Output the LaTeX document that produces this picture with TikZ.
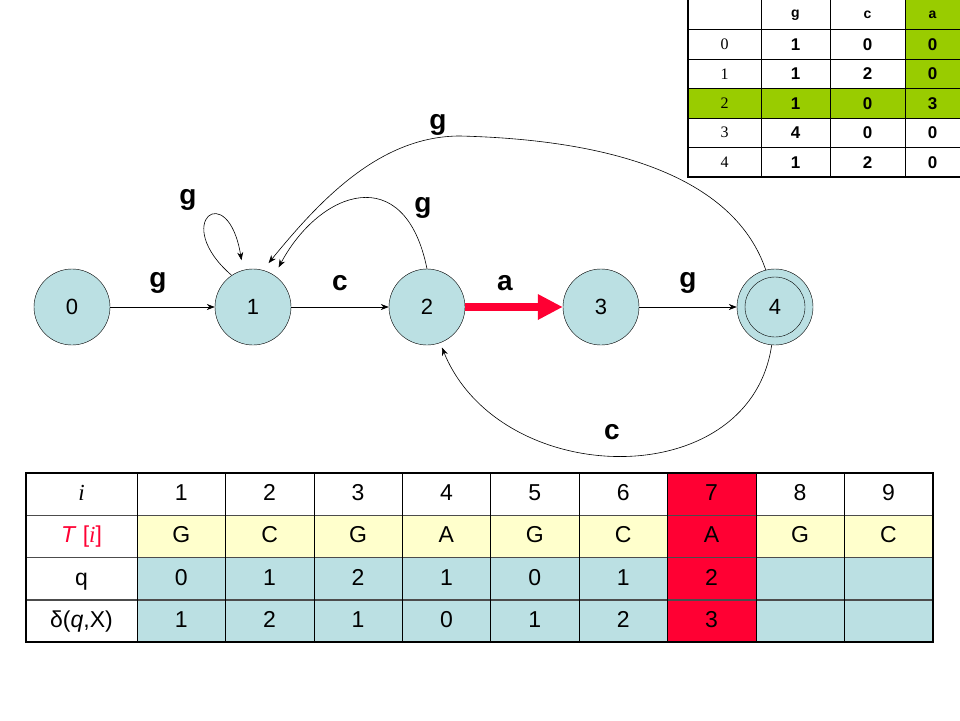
\documentclass[tikz,border=0pt]{standalone}
\usepackage{fontspec}
\setmainfont{Liberation Sans}
\newfontfamily\serifo{Liberation Serif}
\usetikzlibrary{arrows.meta}

\definecolor{azulq}{RGB}{187,224,227}
\definecolor{amarillo}{RGB}{255,255,204}
\definecolor{rojo}{RGB}{255,0,51}
\definecolor{verde}{RGB}{153,204,0}

\tikzset{
  estado/.style={circle, draw, fill=azulq, minimum size=76pt, inner sep=0pt, font=\fontsize{22}{24}\selectfont},
  flecha/.style={-{Stealth[length=8pt,width=6pt]}, line width=0.6pt},
  etiq/.style={font=\bfseries\fontsize{28}{30}\selectfont},
  celda/.style={font=\fontsize{23}{25}\selectfont, text height=17pt, text depth=5pt},
  tnum/.style={font=\bfseries\fontsize{17}{19}\selectfont, text height=12pt, text depth=0pt},
}

\begin{document}
\begin{tikzpicture}[x=1pt,y=-1pt]
\useasboundingbox (0,0) rectangle (960,720);
% Tabla de transiciones
\fill[verde] (905,-2) rectangle (962,118);
\fill[verde] (688,88.5) rectangle (962,118);
\foreach \y in {29.5,59,88.5,118,147.5} \draw[line width=0.8pt] (688,\y) -- (962,\y);
\foreach \x in {761,830,905} \draw[line width=0.8pt] (\x,-2) -- (\x,177);
\draw[line width=2.5pt] (688,-2) rectangle (962,177);
\node[font=\bfseries\fontsize{14}{16}\selectfont] (hg) at (795.5,15) {g};
\node[font=\bfseries\fontsize{14}{16}\selectfont] (hc) at (867.5,15) {c};
\node[font=\bfseries\fontsize{14}{16}\selectfont] (ha) at (932.5,15) {a};
\foreach \vg/\vc/\va [count=\r from 0] in {1/0/0,1/2/0,1/0/3,4/0/0,1/2/0} {
  \node[font=\serifo\fontsize{16}{18}\selectfont] (f\r) at (724.5,{44.25+29.5*\r}) {\r};
  \node[tnum] (g\r) at (795.5,{44.25+29.5*\r}) {\vg};
  \node[tnum] (c\r) at (867.5,{44.25+29.5*\r}) {\vc};
  \node[tnum] (a\r) at (932.5,{44.25+29.5*\r}) {\va};
}
% Estados
\node[estado] (n0) at (72,307) {0};
\node[estado] (n1) at (253,307) {1};
\node[estado] (n2) at (427,307) {2};
\node[estado] (n3) at (601,307) {3};
\node[estado] (n4) at (775,307) {4};
\draw (n4) circle (30pt);
% Transiciones hacia delante
\draw[flecha] (n0) -- (n1);
\node[etiq] (l01) at (158,283) {g};
\draw[flecha] (n1) -- (n2);
\node[etiq] (l12) at (340,283) {c};
\draw[rojo, line width=8pt, -{Triangle[length=25pt,width=24pt]}] (n2) -- (n3);
\node[etiq] (l23) at (505,283) {a};
\draw[flecha] (n3) -- (n4);
\node[etiq] (l34) at (688,283) {g};
% Transiciones de retorno
\draw[flecha, shorten >=10pt] (n1.124) .. controls (170,222) and (228,178) .. (n1.105);
\node[etiq] (l11) at (188,200) {g};
\draw[flecha, shorten >=9pt] (n2.north) .. controls (405,160) and (320,190) .. (n1.56);
\node[etiq] (l21) at (423,208) {g};
\draw[flecha, shorten >=9pt] (n4.104) .. controls (735,180) and (620,140) .. (460,136)
  .. controls (380,136) and (320,200) .. (n1.75);
\node[etiq] (l41) at (438,125) {g};
\draw[flecha, shorten >=5pt] (n4.265) .. controls (750,495) and (500,490) .. (n2.-70);
\node[etiq] (l42) at (612,432) {c};
% Tabla del texto
\fill[amarillo] (137,515.5) rectangle (933,557.8);
\fill[azulq] (137,557.8) rectangle (933,642);
\fill[rojo] (667.4,473) rectangle (755.8,642);
\foreach \y in {515.5,557.8,600} \draw[gray!60!black, line width=1.2pt] (26,\y) -- (933,\y);
\foreach \k in {0,...,8} \draw[line width=0.6pt] ({137+88.4*\k},473) -- ({137+88.4*\k},642);
\draw[line width=2.5pt] (26,473) rectangle (933,642);
\node[celda] (ri) at (81.5,494) {\serifo\itshape i};
\node[celda, text=rojo] (rt) at (81.5,536.5) {\textit{T} [{\serifo\itshape i}]};
\node[celda] (rq) at (81.5,579) {q};
\node[celda] (rd) at (81.5,621) {δ(\textit{q},X)};
\foreach \v [count=\c] in {1,...,9} \node[celda] (i\c) at ({137+88.4*(\c-0.5)},494) {\v};
\foreach \v [count=\c] in {G,C,G,A,G,C,A,G,C} \node[celda] (t\c) at ({137+88.4*(\c-0.5)},536.5) {\v};
\foreach \v [count=\c] in {0,1,2,1,0,1,2,{},{}} \node[celda] (q\c) at ({137+88.4*(\c-0.5)},579) {\v};
\foreach \v [count=\c] in {1,2,1,0,1,2,3,{},{}} \node[celda] (d\c) at ({137+88.4*(\c-0.5)},621) {\v};
\end{tikzpicture}
\end{document}
